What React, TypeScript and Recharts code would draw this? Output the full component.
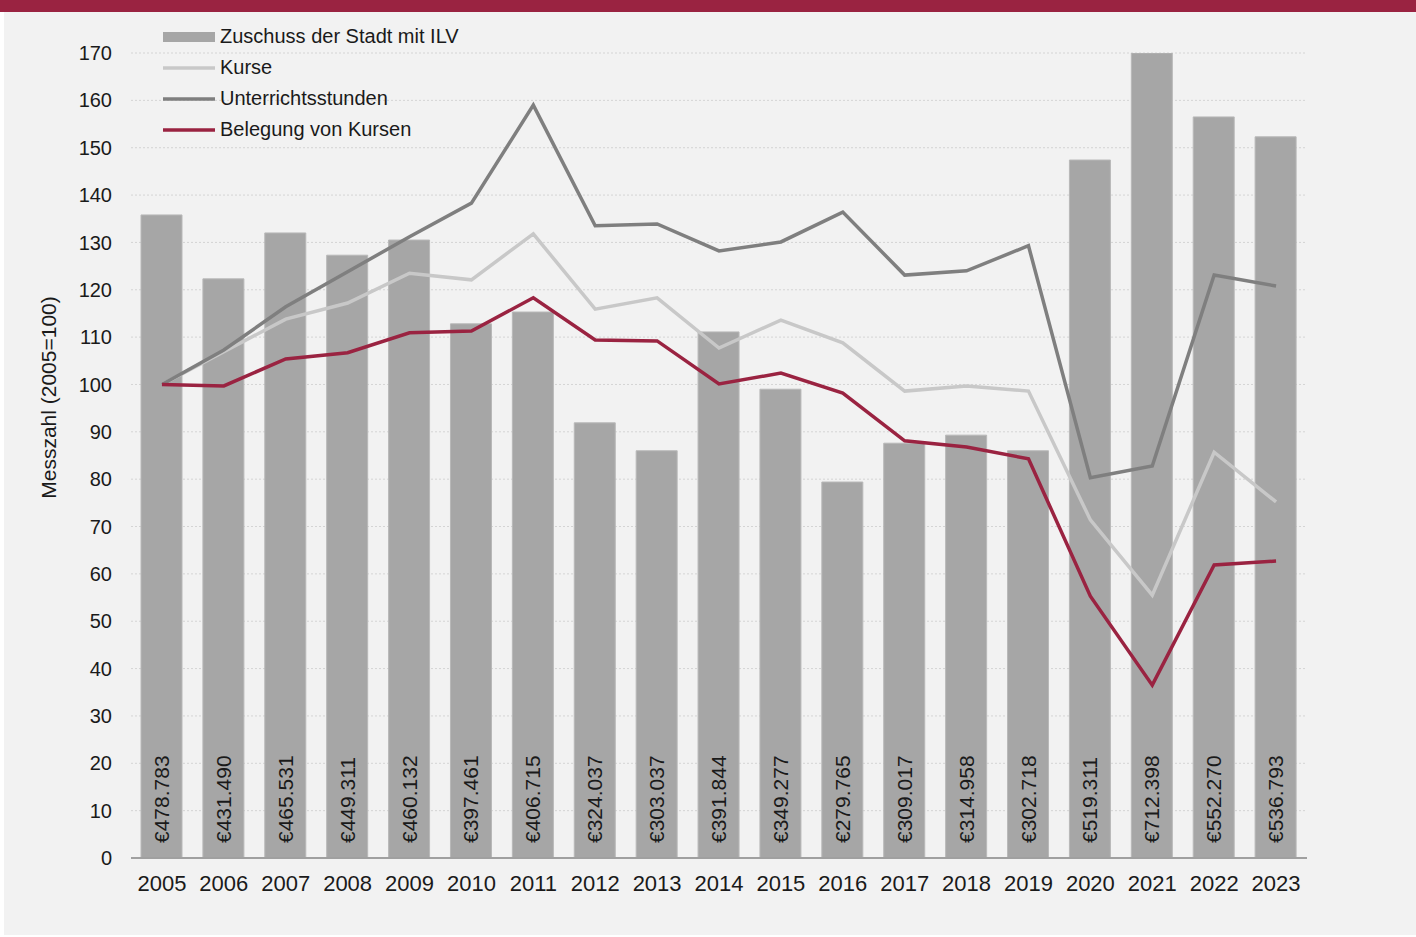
import React from 'react';
import { ComposedChart, Bar, Line, XAxis, YAxis, CartesianGrid, LabelList } from 'recharts';

const years = ['2005','2006','2007','2008','2009','2010','2011','2012','2013','2014','2015','2016','2017','2018','2019','2020','2021','2022','2023'];
const zuschussHeight = [135.8,122.3,132,127.3,130.5,112.8,115.3,91.9,86,111.1,99,79.4,87.6,89.3,86,147.4,170,156.5,152.3];
const zuschussLabels = ['€478.783','€431.490','€465.531','€449.311','€460.132','€397.461','€406.715','€324.037','€303.037','€391.844','€349.277','€279.765','€309.017','€314.958','€302.718','€519.311','€712.398','€552.270','€536.793'];
const kurse = [100,106.9,113.8,117.2,123.5,122.1,131.8,115.9,118.3,107.7,113.6,108.8,98.6,99.7,98.6,71.4,55.5,85.7,75.2];
const unterricht = [100,107.3,116.4,123.8,131.2,138.3,159,133.5,133.9,128.2,130.1,136.4,123.1,124,129.3,80.3,82.8,123.1,120.8];
const belegung = [100,99.7,105.4,106.7,110.9,111.3,118.3,109.4,109.2,100.1,102.4,98.2,88.1,86.8,84.3,55.3,36.5,61.9,62.7];
const yTicks = [0,10,20,30,40,50,60,70,80,90,100,110,120,130,140,150,160,170];

const data = years.map((y, i) => ({
  year: y,
  zuschuss: zuschussHeight[i],
  label: zuschussLabels[i],
  kurse: kurse[i],
  unterricht: unterricht[i],
  belegung: belegung[i],
}));

const FONT = '"Liberation Sans", Arial, sans-serif';
const RED = '#9a2341';

const legendItems = [
  { name: 'Zuschuss der Stadt mit ILV', color: '#a6a6a6', type: 'rect' },
  { name: 'Kurse', color: '#c8c8c8', type: 'line' },
  { name: 'Unterrichtsstunden', color: '#7f7f7f', type: 'line' },
  { name: 'Belegung von Kursen', color: RED, type: 'line' },
];

const LegendBox = () => (
  <div style={{ position: 'absolute', left: 163, top: 21, fontFamily: FONT, fontSize: 20, color: '#1a1a1a' }}>
    {legendItems.map((it) => (
      <div key={it.name} style={{ display: 'flex', alignItems: 'center', height: 31, whiteSpace: 'nowrap' }}>
        <svg width={57} height={12}>
          {it.type === 'rect' ? (
            <rect x={0} y={1} width={52} height={10} fill={it.color} />
          ) : (
            <line x1={0} y1={6} x2={52} y2={6} stroke={it.color} strokeWidth={3.5} />
          )}
        </svg>
        <span>{it.name}</span>
      </div>
    ))}
  </div>
);

const BarLabel = (props: any) => {
  const { x, y, width, height, value } = props;
  const cx = x + width / 2;
  const by = y + height - 15;
  return (
    <text
      x={cx}
      y={by}
      transform={`rotate(-90 ${cx} ${by})`}
      textAnchor="start"
      dominantBaseline="central"
      fontFamily={FONT}
      fontSize={21}
      fill="#1a1a1a"
    >
      {value}
    </text>
  );
};

const YLabel = (props: any) => {
  const vb = props.viewBox || {};
  const lx = vb.x + 17;
  const ly = vb.y + vb.height / 2 - 58;
  return (
    <text
      x={lx}
      y={ly}
      transform={`rotate(-90 ${lx} ${ly})`}
      textAnchor="middle"
      dominantBaseline="central"
      fontFamily={FONT}
      fontSize={21}
      fill="#1a1a1a"
    >
      Messzahl (2005=100)
    </text>
  );
};

export default function App() {
  return (
    <div style={{ position: 'absolute', left: 0, top: 0, width: 1416, height: 937, background: '#ffffff', overflow: 'hidden' }}>
      <div style={{ position: 'absolute', left: 0, top: 0, width: 1416, height: 12, background: RED }} />
      <div style={{ position: 'absolute', left: 4, top: 12, width: 1412, height: 923, background: '#f2f2f2' }} />
      <div style={{ position: 'absolute', left: 0, top: 0 }}>
        <ComposedChart
          width={1416}
          height={937}
          data={data}
          margin={{ top: 53, right: 109, bottom: 39, left: 31 }}
          barSize={41}
        >
          <CartesianGrid horizontal vertical={false} stroke="#d4d4d4" strokeDasharray="2 2" />
          <XAxis
            dataKey="year"
            height={40}
            tickLine={false}
            axisLine={{ stroke: '#a0a0a0', strokeWidth: 2 }}
            tickSize={0}
            tickMargin={17}
            tick={{ fontFamily: FONT, fontSize: 22, fill: '#1a1a1a' }}
            interval={0}
          />
          <YAxis
            width={100}
            domain={[0, 170]}
            ticks={yTicks}
            allowDataOverflow
            axisLine={false}
            tickLine={false}
            tickSize={0}
            tickMargin={19}
            tick={{ fontFamily: FONT, fontSize: 20, fill: '#1a1a1a' }}
            label={<YLabel />}
          />
          <Bar dataKey="zuschuss" fill="#a6a6a6" stroke="#b8b8b8" strokeWidth={1} isAnimationActive={false}>
            <LabelList dataKey="label" content={<BarLabel />} />
          </Bar>
          <Line dataKey="kurse" stroke="#c8c8c8" strokeWidth={3.5} dot={false} isAnimationActive={false} />
          <Line dataKey="unterricht" stroke="#7f7f7f" strokeWidth={3.5} dot={false} isAnimationActive={false} />
          <Line dataKey="belegung" stroke={RED} strokeWidth={3.5} dot={false} isAnimationActive={false} />
        </ComposedChart>
      </div>
      <LegendBox />
    </div>
  );
}
